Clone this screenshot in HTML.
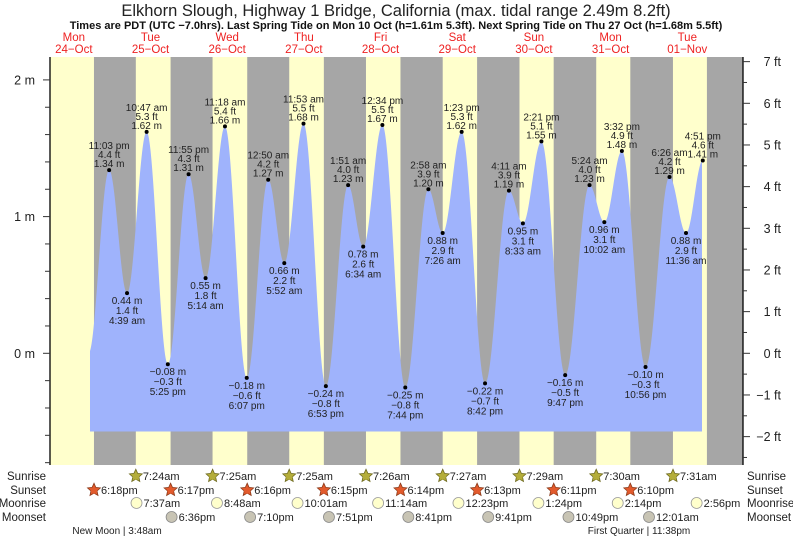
<!DOCTYPE html>
<html><head><meta charset="utf-8">
<style>
html,body{margin:0;padding:0;background:#fff;}
svg{display:block;font-family:"Liberation Sans",Arial,sans-serif;}
</style></head>
<body>
<svg id="chart" width="793" height="539" viewBox="0 0 793 539" xmlns="http://www.w3.org/2000/svg">
<text x="396" y="16" text-anchor="middle" font-size="16.5" fill="#222">Elkhorn Slough, Highway 1 Bridge, California (max. tidal range 2.49m 8.2ft)</text>
<text x="396" y="29" text-anchor="middle" font-size="11" font-weight="bold" fill="#111">Times are PDT (UTC −7.0hrs). Last Spring Tide on Mon 10 Oct (h=1.61m 5.3ft). Next Spring Tide on Thu 27 Oct (h=1.68m 5.5ft)</text>
<g id="bg"></g>
<g id="fill"></g>
<g id="axes"></g>
<g id="labels"></g>
<g id="days"></g>
<g id="astro"></g>
</svg>
<script>
// ---- data ----
var dayNames = ["Mon","Tue","Wed","Thu","Fri","Sat","Sun","Mon","Tue"];
var dayDates = ["24\u2212Oct","25\u2212Oct","26\u2212Oct","27\u2212Oct","28\u2212Oct","29\u2212Oct","30\u2212Oct","31\u2212Oct","01\u2212Nov"];
// tide extremes: day index (0 = Mon 24-Oct), time string, height (m), height (ft)
var tideTime = ["4:36 pm","11:03 pm","4:39 am","10:47 am","5:25 pm","11:55 pm","5:14 am","11:18 am","6:07 pm","12:50 am","5:52 am","11:53 am","6:53 pm","1:51 am","6:34 am","12:34 pm","7:44 pm","2:58 am","7:26 am","1:23 pm","8:42 pm","4:11 am","8:33 am","2:21 pm","9:47 pm","5:24 am","10:02 am","3:32 pm","10:56 pm","6:26 am","11:36 am","4:51 pm"];
var tideDayFix = [0,0,1,1,1,1,2,2,2,3,3,3,3,4,4,4,4,5,5,5,5,6,6,6,6,7,7,7,7,8,8,8];
var tideM = [0.00,1.34,0.44,1.62,-0.08,1.31,0.55,1.66,-0.18,1.27,0.66,1.68,-0.24,1.23,0.78,1.67,-0.25,1.20,0.88,1.62,-0.22,1.19,0.95,1.55,-0.16,1.23,0.96,1.48,-0.10,1.29,0.88,1.41];
var tideFt = ["","4.4","1.4","5.3","\u22120.3","4.3","1.8","5.4","\u22120.6","4.2","2.2","5.5","\u22120.8","4.0","2.6","5.5","\u22120.8","3.9","2.9","5.3","\u22120.7","3.9","3.1","5.1","\u22120.5","4.0","3.1","4.9","\u22120.3","4.2","2.9","4.6"];
var tideLabeled = [false,true,true,true,true,true,true,true,true,true,true,true,true,true,true,true,true,true,true,true,true,true,true,true,true,true,true,true,true,true,true,true];
var sunriseTimes = [null,"7:24am","7:25am","7:25am","7:26am","7:27am","7:29am","7:30am","7:31am"];
var sunsetTimes = ["6:18pm","6:17pm","6:16pm","6:15pm","6:14pm","6:13pm","6:11pm","6:10pm","6:09pm"];
var sunsetShown = [true,true,true,true,true,true,true,true,false];
var moonriseTimes = [null,"7:37am","8:48am","10:01am","11:14am","12:23pm","1:24pm","2:14pm","2:56pm"];
var moonsetTimes = [null,"6:36pm","7:10pm","7:51pm","8:41pm","9:41pm","10:49pm",null,"12:01am"];
var meterTicks = [2,1,0];
var footTicks = [7,6,5,4,3,2,1,0,-1,-2];

// ---- scales ----
var X0 = 35.5, PXH = 3.195, PL = 50, PR = 743, PT = 57, PB = 465;
var Y0 = 353.3, PXM = 136.7;
function parseT(s){var m=s.match(/(\d+):(\d+)\s*(am|pm)/);var h=+m[1]%12;if(m[3]=="pm")h+=12;return h+ (+m[2])/60;}
function xT(t){return X0+PXH*t;}
function yM(m){return Y0-PXM*m;}
var NS="http://www.w3.org/2000/svg";
function mk(tag,attrs,parent,txt){var e=document.createElementNS(NS,tag);for(var k in attrs)e.setAttribute(k,attrs[k]);if(txt!=null)e.textContent=txt;parent.appendChild(e);return e;}

// ---- background ----
var bg=document.getElementById('bg');
var r=mk('rect',{x:PL,y:PT,width:PR-PL,height:PB-PT,fill:'#ffffcc'},bg);


for(var d=0;d<9;d++){
  var s=xT(d*24+parseT(sunsetTimes[d]));
  var e2 = (d+1<9 && sunriseTimes[d+1]) ? xT((d+1)*24+parseT(sunriseTimes[d+1])) : PR;
  if(s>PR)continue;
  var n=mk('rect',{x:s,y:PT,width:Math.min(e2,PR)-s,height:PB-PT,fill:'#a6a6a6'},bg);
  
  
}

// ---- tide curve ----
var ts=[];for(var i=0;i<tideM.length;i++){ts.push(tideDayFix[i]*24+parseT(tideTime[i]));}
function hAt(t){for(var i=0;i<ts.length-1;i++){if(t>=ts[i]&&t<=ts[i+1]){var f=(t-ts[i])/(ts[i+1]-ts[i]);return tideM[i]+(tideM[i+1]-tideM[i])*(1-Math.cos(Math.PI*f))/2;}}return null;}
var xa=90, xb=702, yBase=431.5;
var pts=[[xa,yBase]];
for(var x=xa;x<=xb;x+=0.5){var t=(x-X0)/PXH;var h=hAt(t);if(h!==null)pts.push([x,yM(h)]);}
pts.push([xb,yBase]);
var poly=mk('polygon',{points:pts.map(function(p){return p[0].toFixed(1)+','+p[1].toFixed(1);}).join(' '),fill:'#9fb3fc'},document.getElementById('fill'));



// ---- axes ----
var ax=document.getElementById('axes');
mk('line',{x1:PL,y1:PT,x2:PL,y2:PB,stroke:'#000','stroke-width':1.3},ax);
mk('line',{x1:PR,y1:PT,x2:PR,y2:PB,stroke:'#000','stroke-width':1.3},ax);
for(var m=-0.8;m<=2.21;m+=0.2){var yy=yM(m);if(yy<PT||yy>PB)continue;var major=Math.abs(m-Math.round(m))<0.01;mk('line',{x1:major?43:45,y1:yy,x2:PL,y2:yy,stroke:'#333','stroke-width':1},ax);}
meterTicks.forEach(function(v){var t=mk('text',{x:35,y:yM(v)+4.5,'text-anchor':'end','font-size':12.5,fill:'#222'},ax,v+' m');});
for(var f=-2.5;f<=7.01;f+=0.5){var yy=yM(f*0.3048);if(yy<PT||yy>PB)continue;var major=Math.abs(f-Math.round(f))<0.01;mk('line',{x1:PR,y1:yy,x2:major?750:747,y2:yy,stroke:'#333','stroke-width':1},ax);}
footTicks.forEach(function(v){var t=mk('text',{x:781,y:yM(v*0.3048)+4.5,'text-anchor':'end','font-size':12.5,fill:'#222'},ax,(v<0?'\u2212'+(-v):v)+' ft');});

// ---- tide labels ----
var lb=document.getElementById('labels');
for(var i=0;i<tideM.length;i++){
  if(!tideLabeled[i])continue;
  var x=xT(ts[i]), y=yM(tideM[i]);
  var isHigh = (i>0 && tideM[i]>tideM[i-1]) || (i==0);
  var dot=mk('circle',{cx:x,cy:y,r:2,fill:'#000'},lb);
  
  
  var mStr=(tideM[i]<0?'\u2212'+(-tideM[i]).toFixed(2):tideM[i].toFixed(2))+' m';
  var lines = isHigh ? [[tideTime[i],-21],[tideFt[i]+' ft',-12],[mStr,-3]] : [[mStr,11],[tideFt[i]+' ft',21],[tideTime[i],31]];
  lines.forEach(function(l){var t=mk('text',{x:x,y:y+l[1],'text-anchor':'middle','font-size':10,fill:'#222'},lb,l[0]);});
}

// ---- day labels ----
var dg=document.getElementById('days');
for(var d=0;d<9;d++){
  var x=xT(d*24+12);
  var a=mk('text',{x:x,y:41,'text-anchor':'middle','font-size':11.5,fill:'#ee2222'},dg,dayNames[d]);
  
  
  var b=mk('text',{x:x,y:53,'text-anchor':'middle','font-size':11.5,fill:'#ee2222'},dg,dayDates[d]);
  
  
}

// ---- astro rows ----
var ag=document.getElementById('astro');
var rowNames=["Sunrise","Sunset","Moonrise","Moonset"], rowY=[476,490,503,517];
rowNames.forEach(function(n,k){
  var a=mk('text',{x:46,y:rowY[k]+4,'text-anchor':'end','font-size':11.5,fill:'#222'},ag,n);
  var b=mk('text',{x:747,y:rowY[k]+4,'font-size':11.5,fill:'#222'},ag,n);
});
function star(cx,cy,fill,stroke){var p=[];for(var i=0;i<10;i++){var rr=i%2?3.2:6.8;var an=-Math.PI/2+i*Math.PI/5;p.push((cx+rr*Math.cos(an)).toFixed(1)+','+(cy+rr*Math.sin(an)).toFixed(1));}var s=mk('polygon',{points:p.join(' '),fill:fill,stroke:stroke,'stroke-width':0.8},ag);mk('circle',{cx:cx,cy:cy+0.5,r:3.3,fill:fill},ag);return s;}
function addEvt(arr,row,kind){
  for(var d=0;d<9;d++){
    if(!arr[d])continue;
    if(kind=='set'&&!sunsetShown[d])continue;
    var x=xT(d*24+parseT(arr[d])); var y=rowY[row];
    if(x>PR)continue;
    var icon;
    if(kind=='rise')icon=star(x,y,'#b4ad3a','#6e6a20');
    else if(kind=='set')icon=star(x,y,'#e25a2c','#8a3a1a');
    else if(kind=='mrise')icon=mk('circle',{cx:x,cy:y,r:5.5,fill:'#ffffcc',stroke:'#999','stroke-width':0.8},ag);
    else icon=mk('circle',{cx:x,cy:y,r:5.5,fill:'#c8c4b4',stroke:'#888','stroke-width':0.8},ag);
    
    
    var t=mk('text',{x:x+7,y:y+4,'font-size':11,fill:'#222'},ag,arr[d]);
    
    
  }
}
addEvt(sunriseTimes,0,'rise');addEvt(sunsetTimes,1,'set');addEvt(moonriseTimes,2,'mrise');addEvt(moonsetTimes,3,'mset');
var nm=mk('text',{x:117,y:534,'text-anchor':'middle','font-size':10,fill:'#222'},ag,'New Moon | 3:48am');


var fq=mk('text',{x:639,y:534,'text-anchor':'middle','font-size':10,fill:'#222'},ag,'First Quarter | 11:38pm');


</script>
</body></html>
